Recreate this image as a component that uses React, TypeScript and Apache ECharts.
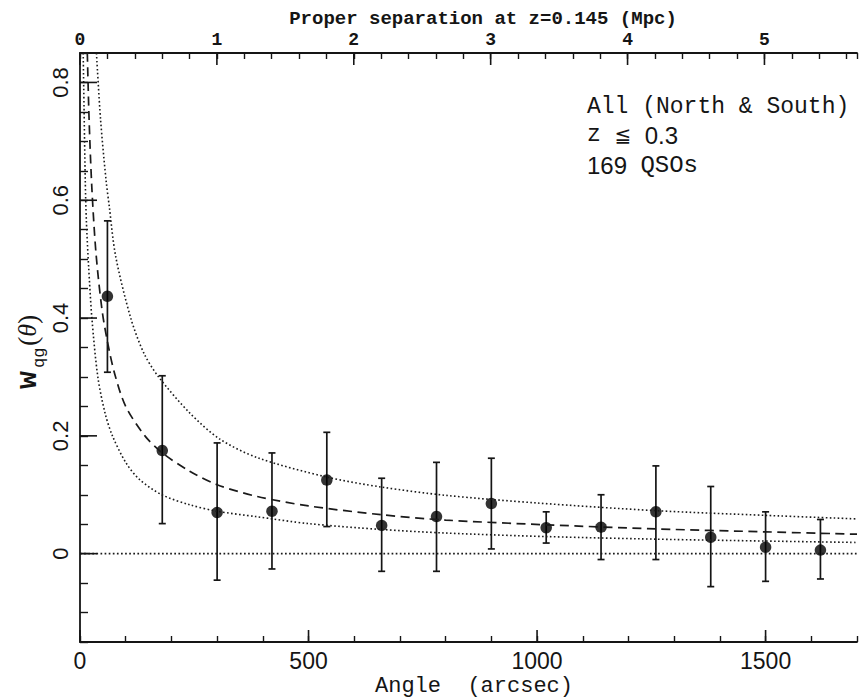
import React, { useEffect, useRef } from "react";
import * as echarts from "echarts";

// ---- data ----
const angles = [60, 180, 300, 420, 540, 660, 780, 900, 1020, 1140, 1260, 1380, 1500, 1620];
const wValues = [0.437, 0.175, 0.07, 0.072, 0.125, 0.048, 0.063, 0.085, 0.044, 0.045, 0.071, 0.028, 0.011, 0.006];
const errUpper = [0.565, 0.302, 0.188, 0.171, 0.206, 0.128, 0.155, 0.162, 0.071, 0.1, 0.149, 0.114, 0.071, 0.058];
const errLower = [0.308, 0.051, -0.045, -0.026, 0.046, -0.03, -0.03, 0.008, 0.018, -0.01, -0.01, -0.056, -0.047, -0.043];

const fitAngles = [16, 20, 26, 35, 48, 60, 76, 100, 142, 180, 240, 300, 388, 500, 660, 800, 1020, 1260, 1500, 1700];
const fitW = [0.85, 0.735, 0.62, 0.51, 0.415, 0.36, 0.305, 0.25, 0.2, 0.171, 0.14, 0.117, 0.097, 0.081, 0.066, 0.057, 0.049, 0.042, 0.037, 0.033];

const upperAngles = [36, 45, 57, 64, 78, 111, 140, 172, 240, 305, 388, 540, 660, 800, 1000, 1260, 1500, 1700];
const upperW = [0.85, 0.737, 0.634, 0.59, 0.505, 0.4, 0.34, 0.3, 0.239, 0.195, 0.163, 0.13, 0.113, 0.099, 0.086, 0.073, 0.065, 0.059];

const lowerAngles = [7, 11.5, 14, 18.7, 26, 39, 55, 71, 100, 130, 179, 240, 300, 384, 500, 660, 800, 1020, 1300, 1700];
const lowerW = [0.85, 0.634, 0.564, 0.49, 0.4, 0.3, 0.238, 0.2, 0.155, 0.126, 0.1, 0.083, 0.072, 0.063, 0.051, 0.041, 0.035, 0.029, 0.024, 0.019];

const zeroLineX = [0, 1700];
const zeroLineY = [0, 0];

const bottomTickLabels = [0, 500, 1000, 1500];
const leftTickLabels = [0, 0.2, 0.4, 0.6, 0.8];
const topTickLabels = [0, 1, 2, 3, 4, 5];

const X_MIN = 0;
const X_MAX = 1700;
const Y_MIN = -0.15;
const Y_MAX = 0.85;
const ARCSEC_PER_MPC = 299.5;

const INK = "#151515";
const MONO = '"Liberation Mono", "Courier New", monospace';
const SANS = '"Liberation Sans", Arial, sans-serif';
const SERIF = '"Liberation Serif", "DejaVu Serif", serif';

const near = (list: number[], v: number) => list.some((t) => Math.abs(t - v) < 1e-6);

export default function App() {
  const ref = useRef<HTMLDivElement>(null);

  useEffect(() => {
    if (!ref.current) return;
    const chart = echarts.init(ref.current, null, { renderer: "svg" });

    const zip = (xs: number[], ys: number[]) => xs.map((x, i) => [x, ys[i]]);

    const tickSeries = (
      data: number[][],
      xAxisIndex: number,
      dx: number,
      dy: number
    ) => ({
      type: "custom",
      xAxisIndex,
      yAxisIndex: 0,
      silent: true,
      clip: false,
      z: 10,
      data,
      renderItem: (_p: any, api: any) => {
        const pt = api.coord([api.value(0), api.value(1)]);
        return {
          type: "line",
          shape: { x1: pt[0], y1: pt[1], x2: pt[0] + dx, y2: pt[1] + dy },
          style: { stroke: INK, lineWidth: 1.6 },
        };
      },
    });

    const option: any = {
      animation: false,
      backgroundColor: "#ffffff",
      grid: { left: 80, top: 53, width: 788, height: 589, containLabel: false },
      xAxis: [
        {
          type: "value",
          position: "bottom",
          min: X_MIN,
          max: X_MAX,
          interval: 100,
          axisLine: { show: true, onZero: false, lineStyle: { color: INK, width: 1.8 } },
          axisTick: { show: true, inside: true, length: 6, lineStyle: { color: INK, width: 1.4 } },
          axisLabel: {
            show: true,
            showMinLabel: true,
            showMaxLabel: true,
            margin: 7,
            color: INK,
            fontFamily: SANS,
            fontSize: 23,
            formatter: (v: number) => (near(bottomTickLabels, v) ? String(Math.round(v)) : ""),
          },
          splitLine: { show: false },
        },
        {
          type: "value",
          position: "top",
          min: 0,
          max: X_MAX / ARCSEC_PER_MPC,
          interval: 0.2,
          axisLine: { show: true, onZero: false, lineStyle: { color: INK, width: 1.8 } },
          axisTick: { show: true, inside: true, length: 6, lineStyle: { color: INK, width: 1.4 } },
          axisLabel: {
            show: true,
            showMinLabel: true,
            margin: 4,
            color: INK,
            fontFamily: MONO,
            fontWeight: "bold",
            fontSize: 18,
            formatter: (v: number) => (near(topTickLabels, v) ? String(Math.round(v)) : ""),
          },
          splitLine: { show: false },
        },
      ],
      yAxis: {
        type: "value",
        min: Y_MIN,
        max: Y_MAX,
        interval: 0.05,
        axisLine: { show: true, onZero: false, lineStyle: { color: INK, width: 1.8 } },
        axisTick: { show: true, inside: true, length: 8, lineStyle: { color: INK, width: 1.4 } },
        axisLabel: {
          show: true,
          rotate: 90,
          margin: 9,
          color: INK,
          fontFamily: SANS,
          fontSize: 22,
          formatter: (v: number) =>
            near(leftTickLabels, v) ? (Math.abs(v) < 1e-6 ? "0" : v.toFixed(1)) : "",
        },
        splitLine: { show: false },
      },
      series: [
        {
          type: "line",
          data: zip(zeroLineX, zeroLineY),
          symbol: "none",
          silent: true,
          lineStyle: { color: "#1a1a1a", width: 1.7, type: [1.7, 2.4] },
        },
        {
          type: "line",
          data: zip(upperAngles, upperW),
          symbol: "none",
          smooth: 0.3,
          silent: true,
          lineStyle: { color: "#1a1a1a", width: 1.6, type: [1.6, 2.4] },
        },
        {
          type: "line",
          data: zip(lowerAngles, lowerW),
          symbol: "none",
          smooth: 0.3,
          silent: true,
          lineStyle: { color: "#1a1a1a", width: 1.6, type: [1.6, 2.4] },
        },
        {
          type: "line",
          data: zip(fitAngles, fitW),
          symbol: "none",
          smooth: 0.3,
          silent: true,
          lineStyle: { color: "#1a1a1a", width: 1.7, type: [9, 5.5] },
        },
        {
          type: "custom",
          silent: true,
          data: angles.map((a, i) => [a, errLower[i], errUpper[i]]),
          encode: { x: 0, y: [1, 2] },
          renderItem: (_p: any, api: any) => {
            const x = api.value(0);
            const lo = api.coord([x, api.value(1)]);
            const hi = api.coord([x, api.value(2)]);
            const cap = 3.5;
            const st = { stroke: INK, lineWidth: 1.7 };
            return {
              type: "group",
              children: [
                { type: "line", shape: { x1: lo[0], y1: lo[1], x2: hi[0], y2: hi[1] }, style: st },
                { type: "line", shape: { x1: lo[0] - cap, y1: lo[1], x2: lo[0] + cap, y2: lo[1] }, style: st },
                { type: "line", shape: { x1: hi[0] - cap, y1: hi[1], x2: hi[0] + cap, y2: hi[1] }, style: st },
              ],
            };
          },
        },
        {
          type: "scatter",
          data: zip(angles, wValues),
          symbol: "circle",
          symbolSize: 11.5,
          silent: true,
          itemStyle: { color: "#000" },
        },
        tickSeries(bottomTickLabels.map((v) => [v, Y_MIN]), 0, 0, -12),
        tickSeries(leftTickLabels.map((v) => [X_MIN, v]), 0, 17, 0),
        tickSeries(topTickLabels.map((v) => [v, Y_MAX]), 1, 0, 12),
      ],
      graphic: [
        {
          type: "text",
          x: 483,
          y: 19,
          silent: true,
          style: {
            text: "Proper separation at z=0.145 (Mpc)",
            font: `bold 19px ${MONO}`,
            fill: INK,
            align: "center",
            verticalAlign: "middle",
            textAlign: "center",
            textVerticalAlign: "middle",
          },
        },
        {
          type: "text",
          x: 474,
          y: 675,
          silent: true,
          style: {
            text: "Angle  (arcsec)",
            font: `22px ${MONO}`,
            fill: INK,
            align: "center",
            verticalAlign: "top",
            textAlign: "center",
            textVerticalAlign: "top",
          },
        },
        {
          type: "group",
          x: 30,
          y: 348,
          rotation: Math.PI / 2,
          silent: true,
          children: [
            {
              type: "text",
              x: -41,
              y: -2,
              style: {
                text: "w",
                font: `bold 30px ${MONO}`,
                fill: INK,
                align: "left",
                verticalAlign: "middle",
                textAlign: "left",
                textVerticalAlign: "middle",
              },
            },
            {
              type: "text",
              x: -20,
              y: 9,
              style: {
                text: "qg",
                font: `17px ${MONO}`,
                fill: INK,
                align: "left",
                verticalAlign: "middle",
                textAlign: "left",
                textVerticalAlign: "middle",
              },
            },
            {
              type: "text",
              x: 2,
              y: -3,
              style: {
                text: "{p|(}{t|θ}{p|)}",
                fill: INK,
                align: "left",
                verticalAlign: "middle",
                textAlign: "left",
                textVerticalAlign: "middle",
                rich: {
                  p: { fontFamily: SERIF, fontSize: 28, fill: INK },
                  t: { fontFamily: SERIF, fontSize: 26, fontStyle: "italic", fill: INK },
                },
              },
            },
          ],
        },
        {
          type: "text",
          x: 587,
          y: 107,
          silent: true,
          style: {
            text: "All (North & South)",
            font: `23px ${MONO}`,
            fill: INK,
            align: "left",
            verticalAlign: "middle",
            textAlign: "left",
            textVerticalAlign: "middle",
          },
        },
        {
          type: "text",
          x: 587,
          y: 135,
          silent: true,
          style: {
            text: "{m|z }{q|≦}{s|  0.3}",
            fill: INK,
            align: "left",
            verticalAlign: "middle",
            textAlign: "left",
            textVerticalAlign: "middle",
            rich: {
              m: { fontFamily: MONO, fontSize: 23, fill: INK },
              q: { fontFamily: '"DejaVu Sans", sans-serif', fontSize: 20, fill: INK },
              s: { fontFamily: SANS, fontSize: 24, fill: INK },
            },
          },
        },
        {
          type: "text",
          x: 587,
          y: 165,
          silent: true,
          style: {
            text: "{s|169  }{m|QSOs}",
            fill: INK,
            align: "left",
            verticalAlign: "middle",
            textAlign: "left",
            textVerticalAlign: "middle",
            rich: {
              m: { fontFamily: MONO, fontSize: 24, fill: INK },
              s: { fontFamily: SANS, fontSize: 24, fill: INK },
            },
          },
        },
      ],
    };

    chart.setOption(option);
    return () => chart.dispose();
  }, []);

  return (
    <div
      ref={ref}
      style={{ position: "absolute", left: 0, top: 0, width: 860, height: 698, background: "#fff" }}
    />
  );
}
